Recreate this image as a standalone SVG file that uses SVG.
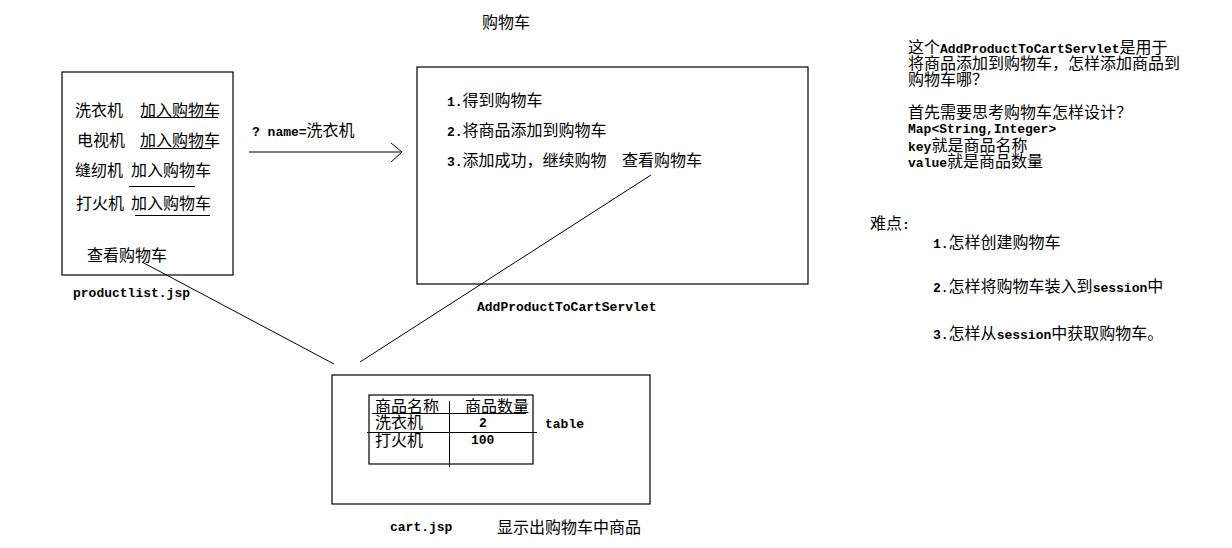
<svg xmlns="http://www.w3.org/2000/svg" width="1232" height="548" viewBox="0 0 1232 548">
<style>
.box{fill:#fff;stroke:#000;stroke-width:1.2}
.ln{stroke:#000;stroke-width:1;fill:none}
.cn{font-family:"Noto Sans CJK SC","Noto Sans CJK JP",sans-serif;font-size:16px;fill:#000}
.mo{font-family:"Liberation Mono","DejaVu Sans Mono",monospace;font-size:13px;font-weight:bold;fill:#000}
</style>
<rect width="1232" height="548" fill="#fff"/>
<text class="cn" x="482" y="28">购物车</text>

<g id="productlist">
<rect class="box" x="62" y="72" width="171" height="203"/>
<text class="cn" x="75" y="116">洗衣机</text>
<text class="cn" x="140" y="116">加入购物车</text>
<line class="ln" x1="141" y1="117.5" x2="218" y2="117.5"/>
<text class="cn" x="77" y="146">电视机</text>
<text class="cn" x="140" y="146">加入购物车</text>
<line class="ln" x1="140" y1="148.5" x2="211" y2="148.5"/>
<text class="cn" x="75" y="176">缝纫机</text>
<text class="cn" x="131" y="176">加入购物车</text>
<line class="ln" x1="129" y1="186.5" x2="195" y2="186.5"/>
<text class="cn" x="76" y="209">打火机</text>
<text class="cn" x="131" y="209">加入购物车</text>
<line class="ln" x1="135" y1="215.5" x2="210" y2="215.5"/>
<text class="cn" x="87" y="261">查看购物车</text>
<text class="mo" x="73" y="297">productlist.jsp</text>
</g>

<g id="servlet">
<rect class="box" x="417" y="67" width="391" height="217"/>
<text class="cn" x="447" y="106"><tspan class="mo">1.</tspan>得到购物车</text>
<text class="cn" x="447" y="136"><tspan class="mo">2.</tspan>将商品添加到购物车</text>
<text class="cn" x="447" y="166"><tspan class="mo">3.</tspan>添加成功，继续购物</text>
<text class="cn" x="622" y="166">查看购物车</text>
<text class="mo" x="477" y="311">AddProductToCartServlet</text>
</g>

<g id="cart">
<rect class="box" x="332" y="375" width="318" height="129"/>
<rect class="box" x="369" y="395" width="164" height="69"/>
<line class="ln" x1="449.5" y1="401" x2="449.5" y2="467"/>
<text class="cn" x="375" y="412">商品名称</text>
<text class="cn" x="465" y="412">商品数量</text>
<line class="ln" x1="372" y1="413.5" x2="526" y2="413.5"/>
<text class="cn" x="375" y="428">洗衣机</text>
<text class="mo" x="479" y="427">2</text>
<line class="ln" x1="367" y1="432.5" x2="537" y2="432.5"/>
<text class="cn" x="375" y="446">打火机</text>
<text class="mo" x="471" y="444">100</text>
<text class="mo" x="545" y="428">table</text>
<text class="mo" x="390" y="531">cart.jsp</text>
<text class="cn" x="497" y="533">显示出购物车中商品</text>
</g>

<g id="notes">
<text class="cn" x="908" y="53">这个<tspan class="mo">AddProductToCartServlet</tspan>是用于</text>
<text class="cn" x="908" y="69">将商品添加到购物车，怎样添加商品到</text>
<text class="cn" x="908" y="85">购物车哪？</text>
<text class="cn" x="908" y="118">首先需要思考购物车怎样设计？</text>
<text class="mo" x="908" y="133">Map&lt;String,Integer&gt;</text>
<text class="cn" x="908" y="151"><tspan class="mo">key</tspan>就是商品名称</text>
<text class="cn" x="908" y="167"><tspan class="mo">value</tspan>就是商品数量</text>
</g>

<g id="difficulties">
<text class="cn" x="870" y="229">难点<tspan class="mo">:</tspan></text>
<text class="cn" x="933" y="248"><tspan class="mo">1.</tspan>怎样创建购物车</text>
<text class="cn" x="933" y="292"><tspan class="mo">2.</tspan>怎样将购物车装入到<tspan class="mo">session</tspan>中</text>
<text class="cn" x="933" y="339"><tspan class="mo">3.</tspan>怎样从<tspan class="mo">session</tspan>中获取购物车。</text>
</g>

<g id="connectors">
<text class="cn" x="252" y="136"><tspan class="mo">? name=</tspan>洗衣机</text>
<line class="ln" x1="249" y1="152" x2="401" y2="152"/>
<polyline class="ln" points="391,143 402,152 391,162"/>
<line class="ln" x1="142" y1="262" x2="334" y2="364"/>
<line class="ln" x1="651" y1="175" x2="360" y2="362"/>
</g>
</svg>
